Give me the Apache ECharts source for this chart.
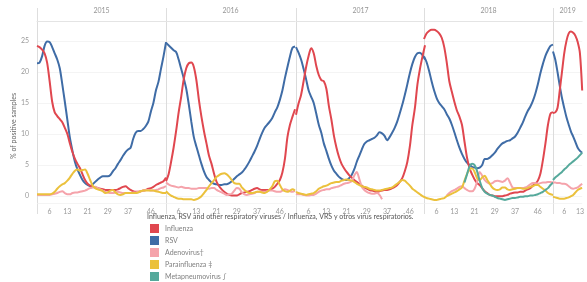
<!DOCTYPE html>
<html>
<head>
<meta charset="utf-8">
<script src="https://cdn.jsdelivr.net/npm/echarts@6/dist/echarts.min.js"></script>
<style>
  html, body { margin: 0; padding: 0; background: #fff; }
  #chart { width: 587px; height: 282px; }
</style>
</head>
<body>
<div id="chart"></div>
<script>
// years shown as panels (2019 is partial)
var years = ['2015', '2016', '2017', '2018', '2019'];
var weekTicks = [6, 13, 21, 29, 37, 46];
var seriesNames = ['Influenza', 'RSV', 'Adenovirus†', 'Parainfluenza ‡', 'Metapneumovirus ∫'];

// % of positive samples per week, one array per year
var influenza = [
  [24.2,24,23.6,23,21.5,18.5,15.2,13.5,12.9,12.4, 11.9,11,10,8.5,7.1,6,5.2,4.5,3.5,2.6,
   2,1.7,1.5,1.4,1.3,1.2,1.1,1.0,1.0,1.0, 1.0,1.0,1.1,1.3,1.5,1.6,1.3,1.0,0.8,0.7,
   0.7,0.8,0.9,1.0,1.2,1.3,1.5,1.8,2.0,2.2, 2.4,3.0],
  [2.4,3.5,5.5,7.8,10.5,13.5,16,18.8,20.6,21.4, 21.5,20.8,18.7,15.5,12.8,10.5,8.5,6.5,5.2,3.6,
   2.3,1.6,1.1,0.7,0.4,0.2,0.1,0.1,0.1,0.3, 0.5,0.6,0.7,0.8,1.0,1.2,1.3,1.1,1.0,1.0,
   1.0,1.0,1.2,1.5,2.0,2.6,3.8,6,9.5,11.5, 12.8,14.0],
  [13.1,14.9,16.3,18.5,20.8,22.6,23.8,23,21,19.5, 18.7,18.5,17.3,14.5,12.3,9.7,7.8,6.3,5.2,4.5,
   3.9,3.4,3.0,2.6,2.3,2.0,1.7,1.4,1.2,1.0, 0.9,0.8,0.7,0.8,0.9,1.0,1.0,1.1,1.3,1.5,
   1.8,2.3,2.9,4.0,5.5,8.0,11.5,14.2,18,20.5, 22.5,24.3],
  [25.3,26.2,26.6,26.8,26.8,26.6,26.2,25.5,24,21.5, 18.5,16.8,15.2,13.8,12.8,11.5,8.8,6.2,4.5,3.5,
   2.7,2.1,1.8,1.3,0.8,0.5,0.2,0.1,0,0, 0,0,0.1,0.2,0.4,0.5,0.6,0.6,0.7,0.7,
   0.9,1.1,1.3,1.7,2.0,2.5,3.6,5.8,8.5,11.5, 13.3,13.5],
  [13.4,13.5,14.2,17,20,23,25,26.2,26.5,26.3, 25.8,24.8,23,17]
];
var rsv = [
  [21.4,21.5,22.5,24.2,24.9,24.8,24,23,22,20.6, 18,15.2,12.3,9.4,7.3,5.5,4.3,3.4,2.6,2.1,
   1.8,1.6,1.9,2.3,2.7,3,3.2,3.2,3.2,3.4, 4,4.5,5.2,5.8,6.5,7.1,7.5,7.8,9.2,10.2,
   10.5,10.5,10.8,11.3,12,13.6,15,17,18.4,20.5, 22.5,24.8],
  [24.7,24.3,23.9,23.5,23.2,22,20.5,19,17.3,14.8, 12,9.5,8,6.6,5.2,4,3.1,2.6,2.2,2.0,
   1.9,1.8,1.8,1.9,1.9,2.1,2.4,2.8,3.2,3.5, 3.8,4.3,4.9,5.6,6.4,7.2,8.1,9.2,10.2,11,
   11.5,12,12.6,13.5,14.3,15.5,17,19,20.8,22.5, 23.9,24.1],
  [24,23.1,22,20.5,18.8,17,16,15,13.3,11.5, 10.2,8.5,7.3,6,4.9,4.1,3.6,3.1,2.8,2.6,
   2.6,2.9,3.4,4.3,5.5,6.5,7.5,8.4,8.8,9.0, 9.2,9.4,9.8,10.3,10.1,9.7,9.0,9.5,10.2,11,
   12,13.3,14.7,16.3,18,19.8,21.3,22.4,23,23.1, 22.7,22],
  [22.5,21.6,20.2,18.5,17,15.8,15,14.5,14,13.2, 12.5,11.5,10.3,9,7.8,6.8,6,5.4,5,4.7,
   4.6,4.5,4.6,5.0,6.0,6.0,6.2,6.6,7.0,7.6, 8.1,8.5,8.7,8.9,9.0,9.3,9.6,10.2,11,11.8,
   12.8,13.7,14.4,15.3,16.5,18,19.8,21.3,22.6,23.5, 24.2,24.4],
  [23.3,22,20,17.8,15.8,14.2,12.7,11.5,10.4,9.6, 8.7,7.8,7.3,7.0]
];
var adenovirus = [
  [0.2,0.2,0.2,0.2,0.2,0.2,0.3,0.4,0.5,0.7, 0.8,0.5,0.3,0.3,0.5,0.6,0.6,0.7,0.8,0.9,
   1.1,1.3,1.4,1.5,1.3,1.1,0.9,0.7,0.6,0.5, 0.5,0.6,0.7,0.6,0.5,0.5,0.5,0.5,0.6,0.6,
   0.7,0.8,0.9,1.0,1.0,0.9,0.9,1.0,1.1,1.3, 1.4,1.6],
  [2.2,1.9,1.7,1.6,1.5,1.4,1.5,1.4,1.3,1.3, 1.2,1.2,1.2,1.3,1.3,1.3,1.3,1.2,1.3,1.3,
   1.0,0.8,0.6,0.4,0.2,0.3,0.4,0.9,1.3,1.2, 0.6,0.3,0.2,0.3,0.4,0.5,0.7,0.7,0.7,0.7,
   0.8,0.9,0.9,0.8,0.7,0.7,0.9,1.1,1.0,0.8, 0.7,0.9],
  [0.4,0.3,0.3,0.2,0.1,0.1,0.2,0.2,0.4,0.7, 0.9,1.0,1.1,1.1,1.3,1.4,1.5,1.6,1.8,2.0,
   2.1,2.2,2.4,3.3,3.9,2.8,1.5,1.0,0.7,0.5, 0.4,0.4,0.5,0.2,-0.5,null,null,null,null,null,
   null,null,null,null,null,null,null,null,null,null, null,null],
  [null,null,null,null,null,null,null,null,null,0.1, 0.5,0.8,1.0,1.2,1.5,1.6,1.3,1.0,0.8,0.8,
   1.2,2.4,3.9,3.3,2.6,2.2,2.0,2.1,2.4,2.5, 2.4,2.3,2.5,2.9,2.2,1.4,1.3,1.3,1.3,1.3,
   1.4,1.6,1.9,2.1,2.1,2.0,2.1,2.2,2.2,2.3, 2.3,2.2],
  [2.2,2.2,2.1,2.1,2.0,2.0,1.9,1.6,1.3,1.2, 1.3,1.4,1.7,2.0]
];
var parainfluenza = [
  [0.3,0.3,0.3,0.3,0.3,0.3,0.4,0.7,1.2,1.6, 1.9,2.1,2.5,3,3.6,4.1,4.3,4.1,4.2,4.3,
   3.6,2.6,1.7,1.3,1.1,1.0,0.8,0.5,0.6,0.9, 1.0,0.6,0.3,0.2,0.3,0.5,0.5,0.5,0.5,0.5,
   0.6,0.8,0.9,0.9,0.9,0.9,0.9,0.8,0.7,0.6, 0.5,0.5],
  [0.8,0.4,0.1,-0.1,-0.3,-0.4,-0.4,-0.5,-0.5,-0.5, -0.5,-0.6,-0.5,-0.3,0,0.5,1.0,1.6,2.1,2.6,
   3.1,3.4,3.6,3.7,3.5,3.1,2.6,2.1,2.0,2.0, 1.4,1.0,0.7,0.5,0.5,0.6,0.7,0.7,0.6,0.5,
   0.7,1.1,1.6,2.4,2.5,1.8,1.1,0.8,0.7,0.9, 1.1,0.9],
  [0.7,0.5,0.4,0.3,0.2,0.3,0.4,0.5,0.8,1.2, 1.4,1.6,1.7,1.9,2.1,2.2,2.3,2.3,2.5,2.6,
   2.7,2.6,2.5,2.3,2.0,1.8,1.6,1.5,1.4,1.2, 1.1,1.0,0.9,0.9,1.0,1.1,1.2,1.3,1.4,1.7,
   2.0,2.3,2.6,2.5,2.1,1.7,1.2,0.9,0.6,0.3, 0.0,-0.2],
  [-0.1,-0.3,-0.4,-0.5,-0.6,-0.6,-0.5,-0.4,-0.3,0, 0.2,0.4,0.6,0.8,1.1,1.4,2.5,3.6,4.3,4.5,
   3.9,2.9,2.6,3.0,3.3,2.6,2.0,1.4,1.1,1.0, 1.1,1.4,1.4,1.1,1.0,1.1,1.2,1.3,1.3,1.2,
   1.2,1.3,1.5,1.6,1.8,1.8,1.5,1.2,0.9,0.5, 0.3,0.2],
  [-0.1,-0.2,-0.3,-0.4,-0.4,-0.4,-0.3,-0.2,0,0.2, 0.6,1.0,1.2,1.3]
];
var metapneumovirus = [
  [],
  [],
  [],
  [null,null,null,null,null,null,null,null,null,null, null,null,null,null,null,null,2.2,3.5,4.8,5.2,
   5.0,4.0,2.5,1.3,0.7,0.4,0.2,0.1,-0.1,-0.3, -0.4,-0.5,-0.6,-0.5,-0.4,-0.3,-0.3,-0.2,-0.1,-0.1,
   0,0,0.1,0.1,0.2,0.3,0.5,0.7,1.0,1.3, 1.8,2.2],
  [2.6,3.0,3.3,3.6,3.9,4.3,4.6,5.0,5.3,5.6, 5.9,6.2,6.6,7.0]
];

var colors = {
  'Influenza': '#e0474f',
  'RSV': '#3f6ca6',
  'Adenovirus†': '#f5a3ab',
  'Parainfluenza ‡': '#ebc13c',
  'Metapneumovirus ∫': '#55a99b'
};
// drawing order (bottom to top)
var layers = [
  ['RSV', rsv],
  ['Influenza', influenza],
  ['Adenovirus†', adenovirus],
  ['Parainfluenza ‡', parainfluenza],
  ['Metapneumovirus ∫', metapneumovirus]
];

var myChart = echarts.init(document.getElementById('chart'));

var lefts = [37, 166, 296, 424, 553];
var pxPerWeek = 2.53;
var gridTop = 21, gridHeight = 182;
var font = 'Lato, "Open Sans", sans-serif';

var grids = [], xAxes = [], yAxes = [], series = [];
var graphics = [{
  // y axis title, sits a bit below the middle like the original
  type: 'text', x: 14, y: 126, rotation: Math.PI / 2, silent: true,
  style: {
    text: '% of positive samples', fill: '#666', fontSize: 7, fontFamily: font,
    align: 'center', verticalAlign: 'middle'
  }
}];

years.forEach(function (yr, i) {
  var n = rsv[i].length;
  var weeks = [];
  for (var w = 1; w <= n; w++) weeks.push(String(w));

  grids.push({ left: lefts[i], top: gridTop, width: (n - 1) * pxPerWeek, height: gridHeight });

  // bottom week axis
  xAxes.push({
    gridIndex: i, type: 'category', boundaryGap: false, data: weeks,
    axisLine: { show: false }, axisTick: { show: false },
    axisLabel: {
      interval: function (idx, val) { return weekTicks.indexOf(+val) >= 0; },
      fontSize: 7, color: '#9a9a9a', margin: 5, fontFamily: font
    },
    splitLine: { show: false }
  });
  // top header axis with the year
  xAxes.push({
    gridIndex: i, type: 'category', position: 'top', boundaryGap: false, data: weeks,
    axisLine: { show: true, lineStyle: { color: '#e4e4e4', width: 1 } },
    axisTick: { show: false }, axisLabel: { show: false },
    name: yr, nameLocation: 'middle', nameGap: 7,
    nameTextStyle: { fontSize: 7, color: '#959595', fontFamily: font }
  });

  yAxes.push({
    gridIndex: i, type: 'value', min: -1.1, max: 28.2,
    axisLine: { show: true, lineStyle: { color: '#dcdcdc' } },
    axisTick: { show: false },
    axisLabel: {
      show: i === 0, showMinLabel: false, showMaxLabel: false,
      fontSize: 7, color: '#9a9a9a', margin: 8, fontFamily: font
    },
    splitLine: { show: true, lineStyle: { color: '#f4f4f4' } }
  });

  layers.forEach(function (l) {
    var data = l[1][i];
    if (!data.length) return;
    series.push({
      name: l[0], type: 'line', xAxisIndex: i * 2, yAxisIndex: i,
      data: data, showSymbol: false, smooth: 0.3, connectNulls: false,
      lineStyle: { width: 2, color: colors[l[0]] },
      itemStyle: { color: colors[l[0]] }
    });
  });

  // separators running through header and tick-label rows
  graphics.push({
    type: 'line', silent: true,
    shape: { x1: lefts[i] + 0.5, y1: 8, x2: lefts[i] + 0.5, y2: 214 },
    style: { stroke: '#dedede', lineWidth: 1 }
  });
});

option = {
  animation: false,
  textStyle: { fontFamily: font },
  title: {
    text: 'Influenza, RSV and other respiratory viruses / Influenza, VRS y otros virus respiratorios.',
    left: 147, top: 213, padding: 0,
    textStyle: { fontSize: 7, fontWeight: 'normal', color: '#555', fontFamily: font }
  },
  legend: {
    orient: 'vertical', left: 150, top: 224, padding: 0,
    icon: 'rect', itemWidth: 9, itemHeight: 9, itemGap: 3,
    selectedMode: false,
    textStyle: { fontSize: 7, color: '#808080', fontFamily: font, padding: [0, 0, 0, 1] },
    data: seriesNames
  },
  grid: grids,
  xAxis: xAxes,
  yAxis: yAxes,
  series: series,
  graphic: graphics
};
myChart.setOption(option);
</script>
</body>
</html>
